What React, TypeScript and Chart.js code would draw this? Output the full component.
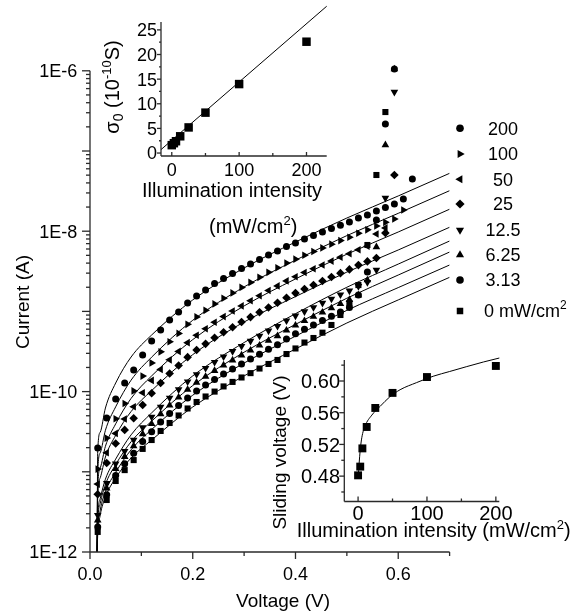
import React, { useEffect, useRef } from 'react';
import { Chart, registerables } from 'chart.js';
import { drawPoint } from 'chart.js/helpers';

Chart.register(...registerables);

// ---------------- data ----------------
const voltage = [0.015, 0.0325, 0.05, 0.0675, 0.085, 0.1025, 0.12, 0.1375, 0.155, 0.1725, 0.19, 0.2075, 0.225, 0.2425, 0.26, 0.2775, 0.295, 0.3125, 0.33, 0.3475, 0.365, 0.3825, 0.4, 0.4175, 0.435, 0.4525, 0.47, 0.4875, 0.505, 0.5225, 0.54, 0.5575, 0.575, 0.5925, 0.61, 0.6275];

const cur200 = [1.98e-11, 4.69e-11, 8.09e-11, 1.28e-10, 1.86e-10, 2.86e-10, 4.27e-10, 5.86e-10, 7.81e-10, 9.83e-10, 1.27e-9, 1.56e-9, 1.85e-9, 2.23e-9, 2.57e-9, 2.97e-9, 3.43e-9, 3.9e-9, 4.44e-9, 5.05e-9, 5.66e-9, 6.44e-9, 7.13e-9, 7.99e-9, 8.84e-9, 9.77e-9, 1.08e-8, 1.19e-8, 1.3e-8, 1.46e-8, 1.59e-8, 1.79e-8, 1.98e-8, 2.18e-8, 2.52e-8, 4.48e-8];
const cur100 = [1.08e-11, 2.63e-11, 4.59e-11, 7.11e-11, 1.02e-10, 1.56e-10, 2.28e-10, 3.13e-10, 4.18e-10, 5.32e-10, 6.9e-10, 8.54e-10, 1.03e-9, 1.24e-9, 1.46e-9, 1.7e-9, 1.99e-9, 2.3e-9, 2.66e-9, 3.07e-9, 3.5e-9, 4.0e-9, 4.48e-9, 5.02e-9, 5.58e-9, 6.19e-9, 6.89e-9, 7.64e-9, 8.39e-9, 9.44e-9, 1.04e-8, 1.16e-8, 1.29e-8, 1.42e-8, 1.84e-8];
const cur50 = [7.02e-12, 1.73e-11, 3.01e-11, 4.55e-11, 6.48e-11, 9.66e-11, 1.38e-10, 1.89e-10, 2.49e-10, 3.17e-10, 4.08e-10, 5.05e-10, 6.07e-10, 7.33e-10, 8.61e-10, 1.01e-9, 1.17e-9, 1.36e-9, 1.57e-9, 1.82e-9, 2.08e-9, 2.4e-9, 2.7e-9, 3.05e-9, 3.4e-9, 3.79e-9, 4.24e-9, 4.73e-9, 5.23e-9, 5.88e-9, 6.5e-9, 9.23e-9, 1.1e-8];
const cur25 = [5.26e-12, 1.29e-11, 2.25e-11, 3.33e-11, 4.66e-11, 6.81e-11, 9.52e-11, 1.28e-10, 1.68e-10, 2.12e-10, 2.69e-10, 3.3e-10, 3.94e-10, 4.7e-10, 5.49e-10, 6.35e-10, 7.38e-10, 8.49e-10, 9.77e-10, 1.12e-9, 1.28e-9, 1.48e-9, 1.69e-9, 1.9e-9, 2.13e-9, 2.39e-9, 2.68e-9, 3.0e-9, 3.34e-9, 3.78e-9, 4.2e-9, 4.63e-9, 9.5e-9, 5.02e-8];
const cur12 = [2.88e-12, 7.23e-12, 1.26e-11, 1.81e-11, 2.49e-11, 3.56e-11, 4.84e-11, 6.44e-11, 8.35e-11, 1.06e-10, 1.33e-10, 1.64e-10, 1.96e-10, 2.33e-10, 2.73e-10, 3.18e-10, 3.69e-10, 4.27e-10, 4.95e-10, 5.73e-10, 6.54e-10, 7.66e-10, 8.81e-10, 9.97e-10, 1.12e-9, 1.27e-9, 1.43e-9, 1.62e-9, 1.81e-9, 2.06e-9, 2.31e-9, 3.28e-9, 2.59e-8, 5.44e-7];
const cur6 = [2.49e-12, 6.24e-12, 1.09e-11, 1.54e-11, 2.1e-11, 2.96e-11, 3.97e-11, 5.26e-11, 6.75e-11, 8.49e-11, 1.06e-10, 1.3e-10, 1.54e-10, 1.82e-10, 2.13e-10, 2.46e-10, 2.84e-10, 3.27e-10, 3.77e-10, 4.33e-10, 4.94e-10, 5.8e-10, 6.71e-10, 7.61e-10, 8.61e-10, 9.75e-10, 1.1e-9, 1.24e-9, 1.4e-9, 1.59e-9, 2.46e-9, 6.35e-9, 1.19e-7, 1.05e-6];
const cur3 = [2.05e-12, 5.17e-12, 9.02e-12, 1.26e-11, 1.7e-11, 2.39e-11, 3.16e-11, 4.17e-11, 5.33e-11, 6.69e-11, 8.32e-11, 1.02e-10, 1.21e-10, 1.42e-10, 1.66e-10, 1.91e-10, 2.21e-10, 2.55e-10, 2.93e-10, 3.38e-10, 3.84e-10, 4.53e-10, 5.27e-10, 5.98e-10, 6.79e-10, 7.68e-10, 8.71e-10, 9.86e-10, 1.12e-9, 1.6e-9, 3.1e-9, 1.38e-8, 2.17e-7, 1.05e-6];
const cur0 = [1.78e-12, 4.45e-12, 7.68e-12, 1.05e-11, 1.4e-11, 1.93e-11, 2.49e-11, 3.23e-11, 4.06e-11, 5.04e-11, 6.16e-11, 7.42e-11, 8.69e-11, 1.0e-10, 1.16e-10, 1.32e-10, 1.5e-10, 1.7e-10, 1.94e-10, 2.21e-10, 2.48e-10, 2.94e-10, 3.45e-10, 4.09e-10, 4.66e-10, 5.43e-10, 6.77e-10, 9.02e-10, 1.27e-9, 2.13e-9, 6.73e-9, 5.02e-8, 3.06e-7];

const fitVoltage = [0.0138, 0.015, 0.02, 0.03, 0.05, 0.08, 0.12, 0.2, 0.3, 0.4, 0.5, 0.6, 0.7];
const fit200 = [1e-12, 1.77e-11, 3.13e-11, 6.24e-11, 1.28e-10, 2.7e-10, 5.08e-10, 1.39e-9, 3.48e-9, 7.33e-9, 1.46e-8, 2.75e-8, 5.27e-8];
const fit100 = [1e-12, 9.72e-12, 1.73e-11, 3.29e-11, 6.46e-11, 1.39e-10, 2.69e-10, 7.75e-10, 2.02e-9, 4.35e-9, 8.81e-9, 1.67e-8, 3.2e-8];
const fit50 = [1e-12, 6.34e-12, 1.12e-11, 2.08e-11, 3.96e-11, 8.23e-11, 1.57e-10, 4.45e-10, 1.17e-9, 2.54e-9, 5.17e-9, 9.77e-9, 1.88e-8];
const fit25 = [1e-12, 4.75e-12, 8.44e-12, 1.53e-11, 2.85e-11, 5.65e-11, 1.03e-10, 2.89e-10, 7.38e-10, 1.53e-9, 3.09e-9, 5.83e-9, 1.12e-8];
const fit12 = [1e-12, 2.62e-12, 4.66e-12, 8.09e-12, 1.44e-11, 2.89e-11, 5.43e-11, 1.57e-10, 4.09e-10, 9.36e-10, 2.0e-9, 3.89e-9, 7.55e-9];
const fit6 = [1e-12, 2.27e-12, 4.04e-12, 6.94e-12, 1.23e-11, 2.37e-11, 4.28e-11, 1.19e-10, 3.1e-10, 6.89e-10, 1.46e-9, 2.84e-9, 5.5e-9];
const fit3 = [1e-12, 1.88e-12, 3.34e-12, 5.65e-12, 9.86e-12, 1.88e-11, 3.37e-11, 9.02e-11, 2.27e-10, 4.91e-10, 1.03e-9, 1.98e-9, 3.79e-9];
const fit0 = [1e-12, 1.63e-12, 2.89e-12, 4.85e-12, 8.37e-12, 1.49e-11, 2.49e-11, 6.43e-11, 1.57e-10, 3.4e-10, 7.17e-10, 1.39e-9, 2.66e-9];

const legendLabels = ['200', '100', '50', '25', '12.5', '6.25', '3.13', '0 mW/cm'];

const intensity = [0, 3.13, 6.25, 12.5, 25, 50, 100, 200];
const sigma0 = [1.6, 2.0, 2.4, 3.4, 5.2, 8.2, 14.0, 22.6];
const sigmaFitX = [-16, 230];
const sigmaFitY = [0.7, 29.8];
const slidingV = [0.481, 0.492, 0.515, 0.542, 0.566, 0.585, 0.605, 0.619];
const slideFitX = [0, 3, 5.5, 10, 20, 32, 46, 61, 85, 109, 133, 157, 182, 205];
const slideFitY = [0.478, 0.512, 0.529, 0.543, 0.557, 0.568, 0.58, 0.589, 0.598, 0.606, 0.612, 0.618, 0.624, 0.629];

const mainXTicks = [0, 0.2, 0.4, 0.6];
const mainXLabels = ['0.0', '0.2', '0.4', '0.6'];
const mainXMinor = [0.1, 0.3, 0.5, 0.7];
const mainYTicks = [1e-12, 1e-10, 1e-8, 1e-6];
const mainYLabels = ['1E-12', '1E-10', '1E-8', '1E-6'];
const sigYTicks = [0, 5, 10, 15, 20, 25];
const sigYLabels = ['0', '5', '10', '15', '20', '25'];
const sigXTicks = [0, 100, 200];
const sigXLabels = ['0', '100', '200'];
const slideYTicks = [0.48, 0.52, 0.56, 0.6];
const slideYLabels = ['0.48', '0.52', '0.56', '0.60'];
const slideYMinor = [0.46, 0.5, 0.54, 0.58, 0.62];
const slideXTicks = [0, 100, 200];
const slideXLabels = ['0', '100', '200'];

// ---------------- styles ----------------
const FONT = '"Liberation Sans", Arial, Helvetica, sans-serif';
const INK = '#000';
const AXIS = '#2a2a2a';

const seriesStyles = [
  { style: 'circle', rot: 0, r: 3.5 },
  { style: 'triangle', rot: 90, r: 4.4 },
  { style: 'triangle', rot: 270, r: 4.4 },
  { style: 'rectRot', rot: 0, r: 4.3 },
  { style: 'triangle', rot: 180, r: 4.4 },
  { style: 'triangle', rot: 0, r: 4.4 },
  { style: 'circle', rot: 0, r: 3.5 },
  { style: 'rect', rot: 0, r: 4.3 },
];

type Seg = { t: string; s: number; dy?: number };
type TextItem = { segs: Seg[]; x: number; y: number; align: 'left' | 'center' | 'right'; rot?: number };
type AxisSpec = {
  id: string; side: 'left' | 'bottom'; major: number[]; minor: number[];
  majorLen: number; minorLen: number; out: boolean;
  labelVals: number[]; labels: string[]; font: number; gap: number; base: number;
};
type DecorSpec = {
  ox: number; oy: number; axes: AxisSpec[]; texts: TextItem[];
  legend?: { x: number; textX: number; ys: number[]; lastLeftX: number; font: number };
};

function drawRich(ctx: CanvasRenderingContext2D, segs: Seg[], x: number, y: number, align: string, rot?: number) {
  ctx.save();
  ctx.translate(x, y);
  if (rot) ctx.rotate(rot);
  let total = 0;
  const widths = segs.map((g) => {
    ctx.font = `${g.s}px ${FONT}`;
    const w = ctx.measureText(g.t).width;
    total += w;
    return w;
  });
  let cx = align === 'center' ? -total / 2 : align === 'right' ? -total : 0;
  ctx.textAlign = 'left';
  ctx.textBaseline = 'alphabetic';
  ctx.fillStyle = INK;
  segs.forEach((g, i) => {
    ctx.font = `${g.s}px ${FONT}`;
    ctx.fillText(g.t, cx, g.dy || 0);
    cx += widths[i];
  });
  ctx.restore();
}

function makeDecor(spec: DecorSpec) {
  return {
    id: 'decor',
    afterDraw(chart: any) {
      const ctx: CanvasRenderingContext2D = chart.ctx;
      const ca = chart.chartArea;
      ctx.save();
      ctx.strokeStyle = AXIS;
      ctx.fillStyle = INK;
      ctx.lineWidth = 1.3;
      for (const ax of spec.axes) {
        const sc = chart.scales[ax.id];
        if (ax.side === 'left') {
          const x0 = ca.left;
          ctx.beginPath(); ctx.moveTo(x0, ca.top); ctx.lineTo(x0, ca.bottom); ctx.stroke();
          const d = ax.out ? -1 : 1;
          const tick = (v: number, len: number) => {
            const p = sc.getPixelForValue(v);
            ctx.beginPath(); ctx.moveTo(x0, p); ctx.lineTo(x0 + d * len, p); ctx.stroke();
          };
          ax.minor.forEach((v) => tick(v, ax.minorLen));
          ax.major.forEach((v) => tick(v, ax.majorLen));
          ctx.font = `${ax.font}px ${FONT}`;
          ctx.textAlign = 'right';
          ctx.textBaseline = 'alphabetic';
          ax.labelVals.forEach((v, i) => ctx.fillText(ax.labels[i], x0 - ax.gap, sc.getPixelForValue(v) + ax.base));
        } else {
          const y0 = ca.bottom;
          ctx.beginPath(); ctx.moveTo(ca.left, y0); ctx.lineTo(ca.right, y0); ctx.stroke();
          const d = ax.out ? 1 : -1;
          const tick = (v: number, len: number) => {
            const p = sc.getPixelForValue(v);
            ctx.beginPath(); ctx.moveTo(p, y0); ctx.lineTo(p, y0 + d * len); ctx.stroke();
          };
          ax.minor.forEach((v) => tick(v, ax.minorLen));
          ax.major.forEach((v) => tick(v, ax.majorLen));
          ctx.font = `${ax.font}px ${FONT}`;
          ctx.textAlign = 'center';
          ctx.textBaseline = 'alphabetic';
          ax.labelVals.forEach((v, i) => ctx.fillText(ax.labels[i], sc.getPixelForValue(v), y0 + ax.base));
        }
      }
      ctx.translate(-spec.ox, -spec.oy);
      spec.texts.forEach((t) => drawRich(ctx, t.segs, t.x, t.y, t.align, t.rot));
      if (spec.legend) {
        const L = spec.legend;
        legendLabels.forEach((lab, i) => {
          const st = seriesStyles[i];
          const y = L.ys[i];
          ctx.fillStyle = INK;
          drawPoint(ctx, { pointStyle: st.style, rotation: st.rot, radius: st.r + 0.3, borderWidth: 0 } as any, L.x, y);
          if (i === legendLabels.length - 1) {
            drawRich(ctx, [{ t: lab, s: L.font }, { t: '2', s: 12, dy: -8 }], L.lastLeftX, y + 6.4, 'left');
          } else {
            drawRich(ctx, [{ t: lab, s: L.font }], L.textX, y + 6.4, 'center');
          }
        });
      }
      ctx.restore();
    },
  };
}

const pts = (xs: number[], ys: number[]) => ys.map((y, i) => ({ x: xs[i], y }));

function baseOptions(pad: any, xScale: any, yScale: any) {
  return {
    responsive: false,
    animation: false,
    devicePixelRatio: 1,
    events: [],
    layout: { padding: pad },
    plugins: { legend: { display: false }, tooltip: { enabled: false }, title: { display: false } },
    scales: { x: { display: false, ...xScale }, y: { display: false, ...yScale } },
  };
}

function yMinorLog() {
  const out: number[] = [];
  for (let e = -12; e < -6; e++) for (let m = 2; m <= 9; m++) out.push(m * Math.pow(10, e));
  return out;
}
function yMajorLog() {
  const out: number[] = [];
  for (let e = -12; e <= -6; e++) out.push(Math.pow(10, e));
  return out;
}

function buildMain() {
  const series = [cur200, cur100, cur50, cur25, cur12, cur6, cur3, cur0];
  const fits = [fit200, fit100, fit50, fit25, fit12, fit6, fit3, fit0];
  const datasets: any[] = [];
  fits.forEach((f) => datasets.push({
    data: pts(fitVoltage, f), showLine: true, pointRadius: 0, borderColor: INK, borderWidth: 1,
    cubicInterpolationMode: 'monotone', fill: false,
  }));
  series.forEach((s, i) => datasets.push({
    data: pts(voltage, s), showLine: false, pointStyle: seriesStyles[i].style, pointRotation: seriesStyles[i].rot,
    pointRadius: seriesStyles[i].r, pointBackgroundColor: INK, pointBorderColor: INK, pointBorderWidth: 0, clip: false,
  }));
  const spec: DecorSpec = {
    ox: 0, oy: 0,
    axes: [
      { id: 'x', side: 'bottom', major: mainXTicks, minor: mainXMinor, majorLen: 7, minorLen: 4, out: true,
        labelVals: mainXTicks, labels: mainXLabels, font: 18, gap: 0, base: 27.6 },
      { id: 'y', side: 'left', major: yMajorLog(), minor: yMinorLog(), majorLen: 8, minorLen: 4, out: true,
        labelVals: mainYTicks, labels: mainYLabels, font: 18, gap: 12.7, base: 6.4 },
    ],
    texts: [
      { segs: [{ t: 'Current (A)', s: 19 }], x: 28.5, y: 302, align: 'center', rot: -Math.PI / 2 },
      { segs: [{ t: 'Voltage (V)', s: 19 }], x: 283, y: 607, align: 'center' },
    ],
    legend: { x: 460, textX: 503, ys: [128.3, 154, 179.3, 204, 230, 255, 280, 311], lastLeftX: 484, font: 18 },
  };
  return {
    type: 'scatter',
    data: { datasets },
    options: baseOptions({ left: 90, right: 136.4, top: 70.8, bottom: 61 },
      { type: 'linear', min: 0, max: 0.7 }, { type: 'logarithmic', min: 1e-12, max: 1e-6 }),
    plugins: [makeDecor(spec)],
  };
}

function buildSigma() {
  const ox = 95, oy = 0;
  const spec: DecorSpec = {
    ox, oy,
    axes: [
      { id: 'x', side: 'bottom', major: sigXTicks, minor: [50, 150], majorLen: 4, minorLen: 3, out: false,
        labelVals: sigXTicks, labels: sigXLabels, font: 18, gap: 0, base: 19.9 },
      { id: 'y', side: 'left', major: sigYTicks, minor: [2.5, 7.5, 12.5, 17.5, 22.5], majorLen: 4, minorLen: 2, out: true,
        labelVals: sigYTicks, labels: sigYLabels, font: 18, gap: 4, base: 6.4 },
    ],
    texts: [
      { segs: [{ t: 'σ', s: 20 }, { t: '0', s: 14, dy: 4 }, { t: ' (10', s: 20 }, { t: '-10', s: 13, dy: -8 }, { t: 'S)', s: 20 }],
        x: 119, y: 87, align: 'center', rot: -Math.PI / 2 },
      { segs: [{ t: 'Illumination intensity', s: 20 }], x: 232, y: 197.3, align: 'center' },
      { segs: [{ t: '(mW/cm', s: 20 }, { t: '2', s: 13, dy: -8 }, { t: ')', s: 20 }], x: 209, y: 232.5, align: 'left' },
    ],
  };
  return {
    type: 'scatter',
    data: {
      datasets: [
        { data: pts(sigmaFitX, sigmaFitY), showLine: true, pointRadius: 0, borderColor: INK, borderWidth: 1, clip: false },
        { data: pts(intensity, sigma0), showLine: false, pointStyle: 'rect', pointRadius: 6, pointBackgroundColor: INK,
          pointBorderWidth: 0, clip: false },
      ],
    },
    options: baseOptions({ left: 161 - ox, right: 250 - (326.7 - ox), top: 22, bottom: 245 - 156 },
      { type: 'linear', min: -16, max: 230 }, { type: 'linear', min: -0.6, max: 26.6 }),
    plugins: [makeDecor(spec)],
  };
}

function buildSlide() {
  const ox = 265, oy = 345, W = 321, H = 205;
  const spec: DecorSpec = {
    ox, oy,
    axes: [
      { id: 'x', side: 'bottom', major: slideXTicks, minor: [50, 150], majorLen: 5, minorLen: 3, out: false,
        labelVals: slideXTicks, labels: slideXLabels, font: 20, gap: 0, base: 18.2 },
      { id: 'y', side: 'left', major: slideYTicks, minor: slideYMinor, majorLen: 5, minorLen: 3, out: true,
        labelVals: slideYTicks, labels: slideYLabels, font: 20, gap: 4.3, base: 7.2 },
    ],
    texts: [
      { segs: [{ t: 'Sliding voltage (V)', s: 19 }], x: 285.5, y: 452.5, align: 'center', rot: -Math.PI / 2 },
      { segs: [{ t: 'Illumination intensity (mW/cm', s: 20 }, { t: '2', s: 13, dy: -8 }, { t: ')', s: 20 }],
        x: 296.7, y: 536.5, align: 'left' },
    ],
  };
  return {
    type: 'scatter',
    data: {
      datasets: [
        { data: pts(slideFitX, slideFitY), showLine: true, pointRadius: 0, borderColor: INK, borderWidth: 1,
          cubicInterpolationMode: 'monotone', clip: false },
        { data: pts(intensity, slidingV), showLine: false, pointStyle: 'rect', pointRadius: 5.6, pointBackgroundColor: INK,
          pointBorderWidth: 0, clip: false },
      ],
    },
    options: baseOptions({ left: 344.3 - ox, right: W - (499.3 - ox), top: 360 - oy, bottom: H - (501.5 - oy) },
      { type: 'linear', min: -20, max: 205 }, { type: 'linear', min: 0.448, max: 0.6265 }),
    plugins: [makeDecor(spec)],
  };
}

function ChartCanvas(props: { left: number; top: number; width: number; height: number; build: () => any }) {
  const ref = useRef<HTMLCanvasElement>(null);
  useEffect(() => {
    const chart = new Chart(ref.current as HTMLCanvasElement, props.build());
    return () => chart.destroy();
  }, []);
  return (
    <canvas
      ref={ref}
      width={props.width}
      height={props.height}
      style={{ position: 'absolute', left: props.left, top: props.top, width: props.width, height: props.height }}
    />
  );
}

export default function App() {
  return (
    <div style={{ position: 'absolute', left: 0, top: 0, width: 586, height: 613, background: '#fff', overflow: 'hidden' }}>
      <ChartCanvas left={0} top={0} width={586} height={613} build={buildMain} />
      <ChartCanvas left={95} top={0} width={250} height={245} build={buildSigma} />
      <ChartCanvas left={265} top={345} width={321} height={205} build={buildSlide} />
    </div>
  );
}
